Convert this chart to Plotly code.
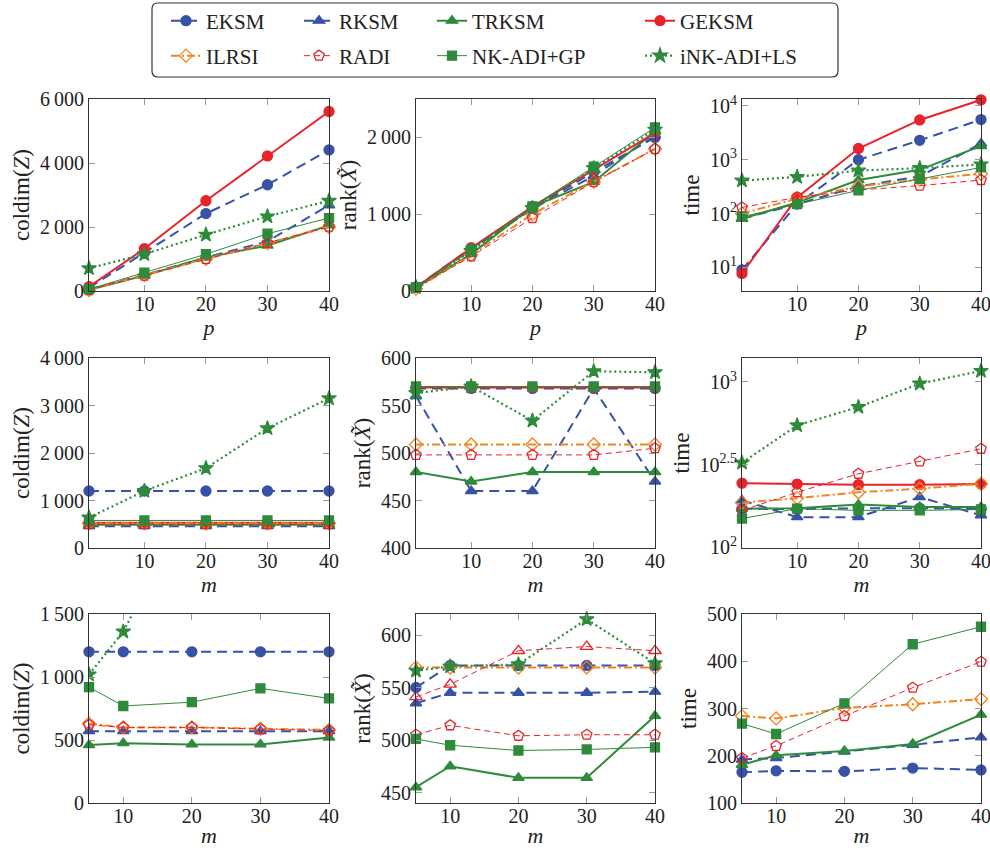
import plotly.graph_objects as go

# ---------------- data ----------------
methods = ["EKSM", "RKSM", "TRKSM", "GEKSM", "ILRSI", "RADI", "NK-ADI+GP", "iNK-ADI+LS"]

p_values = [1, 10, 20, 30, 40]
m_values_mid = [1, 10, 20, 30, 40]
m_values_low = [5, 10, 20, 30, 40]

coldim_p = {
    "EKSM": [100, 1200, 2420, 3320, 4410],
    "RKSM": [50, 500, 1050, 1550, 2680],
    "TRKSM": [40, 480, 1050, 1420, 2050],
    "GEKSM": [135, 1320, 2820, 4220, 5610],
    "ILRSI": [30, 500, 1000, 1500, 2000],
    "RADI": [30, 480, 1000, 1500, 2010],
    "NK-ADI+GP": [60, 570, 1150, 1790, 2280],
    "iNK-ADI+LS": [710, 1150, 1760, 2330, 2820],
}
rank_p = {
    "EKSM": [50, 560, 1080, 1550, 2000],
    "RKSM": [50, 540, 1070, 1500, 2030],
    "TRKSM": [50, 480, 1100, 1420, 2080],
    "GEKSM": [50, 560, 1100, 1580, 2060],
    "ILRSI": [30, 470, 1000, 1420, 1850],
    "RADI": [40, 450, 950, 1420, 1850],
    "NK-ADI+GP": [50, 540, 1100, 1620, 2130],
    "iNK-ADI+LS": [50, 520, 1080, 1600, 2100],
}
time_p = {
    "EKSM": [9, 150, 1000, 2300, 5600],
    "RKSM": [80, 150, 320, 490, 2000],
    "TRKSM": [80, 160, 420, 650, 1800],
    "GEKSM": [7.7, 200, 1620, 5500, 13000],
    "ILRSI": [100, 190, 320, 430, 550],
    "RADI": [130, 200, 275, 330, 420],
    "NK-ADI+GP": [87, 150, 270, 440, 720],
    "iNK-ADI+LS": [410, 480, 630, 700, 820],
}

coldim_m = {
    "EKSM": [1200, 1200, 1200, 1200, 1200],
    "RKSM": [460, 460, 460, 460, 460],
    "TRKSM": [490, 490, 490, 490, 490],
    "GEKSM": [530, 530, 530, 530, 530],
    "ILRSI": [520, 520, 520, 520, 520],
    "RADI": [500, 500, 500, 500, 500],
    "NK-ADI+GP": [580, 580, 580, 580, 580],
    "iNK-ADI+LS": [640, 1200, 1680, 2520, 3150],
}
rank_m = {
    "EKSM": [568, 568, 568, 568, 568],
    "RKSM": [560, 460, 460, 568, 470],
    "TRKSM": [480, 470, 480, 480, 480],
    "GEKSM": [569, 569, 569, 569, 569],
    "ILRSI": [509, 509, 509, 509, 509],
    "RADI": [498, 498, 498, 498, 505],
    "NK-ADI+GP": [570, 570, 570, 570, 570],
    "iNK-ADI+LS": [563, 570, 534, 586, 585],
}
time_m = {
    "EKSM": [171, 170, 172, 172, 170],
    "RKSM": [192, 152, 152, 201, 156],
    "TRKSM": [171, 172, 181, 175, 175],
    "GEKSM": [244, 241, 239, 239, 241],
    "ILRSI": [186, 198, 215, 226, 242],
    "RADI": [167, 215, 278, 330, 394],
    "NK-ADI+GP": [149, 171, 167, 167, 169],
    "iNK-ADI+LS": [324, 546, 705, 977, 1166],
}

coldim_m_low = {
    "EKSM": [1200, 1200, 1200, 1200, 1200],
    "RKSM": [570, 570, 570, 570, 570],
    "TRKSM": [460, 475, 465, 465, 520],
    "ILRSI": [630, 600, 600, 590, 580],
    "RADI": [620, 600, 600, 585, 575],
    "NK-ADI+GP": [920, 770, 800, 910, 830],
    "iNK-ADI+LS": [1020, 1360, 2400, 3000, 3500],
}
rank_m_low = {
    "EKSM": [550, 571, 571, 571, 571],
    "RKSM": [535, 545, 545, 545, 546],
    "TRKSM": [455, 475, 464, 464, 523],
    "ILRSI": [569, 569, 569, 569, 569],
    "RADI": [505, 514, 504, 505, 505],
    "NK-ADI+GP": [501, 495, 490, 491, 493],
    "iNK-ADI+LS": [566, 570, 572, 615, 573],
    "RADI (variant)": [541, 553, 585, 589, 585],
}
time_m_low = {
    "EKSM": [165, 168, 167, 174, 170],
    "RKSM": [192, 195, 209, 223, 239],
    "TRKSM": [181, 201, 210, 225, 287],
    "ILRSI": [284, 279, 301, 309, 320],
    "RADI": [195, 221, 284, 344, 399],
    "NK-ADI+GP": [268, 246, 311, 436, 473],
}

# tick values / labels
x_ticks = [10, 20, 30, 40]
yt_coldim_p = [0, 2000, 4000, 6000]
yl_coldim_p = ["0", "2\u2009000", "4\u2009000", "6\u2009000"]
yt_rank_p = [0, 1000, 2000]
yl_rank_p = ["0", "1\u2009000", "2\u2009000"]
yt_time_p = [10, 100, 1000, 10000]
yl_time_p = ["10<sup>1</sup>", "10<sup>2</sup>", "10<sup>3</sup>", "10<sup>4</sup>"]
yt_coldim_m = [0, 1000, 2000, 3000, 4000]
yl_coldim_m = ["0", "1\u2009000", "2\u2009000", "3\u2009000", "4\u2009000"]
yt_rank_m = [400, 450, 500, 550, 600]
yl_rank_m = ["400", "450", "500", "550", "600"]
yt_time_m = [100, 316.227766, 1000]
yl_time_m = ["10<sup>2</sup>", "10<sup>2.5</sup>", "10<sup>3</sup>"]
yt_coldim_ml = [0, 500, 1000, 1500]
yl_coldim_ml = ["0", "500", "1\u2009000", "1\u2009500"]
yt_rank_ml = [450, 500, 550, 600]
yl_rank_ml = ["450", "500", "550", "600"]
yt_time_ml = [100, 200, 300, 400, 500]
yl_time_ml = ["100", "200", "300", "400", "500"]

# ---------------- styles ----------------
BLUE = "#3752a6"
RED = "#e8232b"
GREEN = "#2f8b3c"
ORANGE = "#f5821f"

style = {
    "EKSM": dict(color=BLUE, width=2, dash="10px,6px", symbol="circle", size=10),
    "RKSM": dict(color=BLUE, width=2, dash="10px,6px", symbol="triangle-up", size=10),
    "TRKSM": dict(color=GREEN, width=2, dash="solid", symbol="triangle-up", size=10),
    "GEKSM": dict(color=RED, width=2, dash="solid", symbol="circle", size=10),
    "ILRSI": dict(color=ORANGE, width=2, dash="8px,3px,2px,3px", symbol="diamond-open", size=10),
    "RADI": dict(color=RED, width=1, dash="6px,4px", symbol="pentagon-open", size=11),
    "NK-ADI+GP": dict(color=GREEN, width=1, dash="solid", symbol="square", size=9),
    "iNK-ADI+LS": dict(color=GREEN, width=2.2, dash="2px,3px", symbol="star", size=11),
    "RADI (variant)": dict(color=RED, width=1, dash="6px,4px", symbol="triangle-up-open", size=11),
}

FONT = "'Liberation Serif', 'DejaVu Serif', serif"
TXT = "#222222"

# panel geometry (pixels) -> paper domains
W, H = 990, 848
cols_px = [(89, 329), (416, 655), (742, 981)]
rows_px = [(99, 291), (358, 548), (614, 803)]

panels = [
    # row, col, x, data, yrange, type, tickvals, ticktext, ytitle, xtitle, xrange
    (0, 0, p_values, coldim_p, [0, 6000], "linear", yt_coldim_p, yl_coldim_p, "coldim(<i>Z</i>)", "<i>p</i>", [1, 40]),
    (0, 1, p_values, rank_p, [0, 2500], "linear", yt_rank_p, yl_rank_p, "rank(<i>X\u0303</i>)", "<i>p</i>", [1, 40]),
    (0, 2, p_values, time_p, [0.56, 4.13], "log", yt_time_p, yl_time_p, "time", "<i>p</i>", [1, 40]),
    (1, 0, m_values_mid, coldim_m, [0, 4000], "linear", yt_coldim_m, yl_coldim_m, "coldim(<i>Z</i>)", "<i>m</i>", [1, 40]),
    (1, 1, m_values_mid, rank_m, [400, 600], "linear", yt_rank_m, yl_rank_m, "rank(<i>X\u0303</i>)", "<i>m</i>", [1, 40]),
    (1, 2, m_values_mid, time_m, [1.995, 3.145], "log", yt_time_m, yl_time_m, "time", "<i>m</i>", [1, 40]),
    (2, 0, m_values_low, coldim_m_low, [0, 1500], "linear", yt_coldim_ml, yl_coldim_ml, "coldim(<i>Z</i>)", "<i>m</i>", [5, 40]),
    (2, 1, m_values_low, rank_m_low, [440, 620], "linear", yt_rank_ml, yl_rank_ml, "rank(<i>X\u0303</i>)", "<i>m</i>", [5, 40]),
    (2, 2, m_values_low, time_m_low, [100, 500], "linear", yt_time_ml, yl_time_ml, "time", "<i>m</i>", [5, 40]),
]

fig = go.Figure()
legend_done = set()

for k, (r, c, xs, data, yr, ytype, tv, tt, ytitle, xtitle, xr) in enumerate(panels):
    idx = "" if k == 0 else str(k + 1)
    x0, x1 = cols_px[c]
    y0, y1 = rows_px[r]
    axis_common = dict(
        showline=True, linecolor="#333333", linewidth=1, mirror="ticks",
        ticks="inside", ticklen=6, tickcolor="#9a9a9a", tickwidth=1,
        showgrid=False, zeroline=False, ticklabeloverflow="allow",
        tickfont=dict(family=FONT, size=20, color=TXT),
    )
    xdef = dict(
        domain=[x0 / W, x1 / W], range=xr, anchor="y" + idx,
        tickvals=x_ticks, ticktext=[str(v) for v in x_ticks],
        title=dict(text=xtitle, font=dict(family=FONT, size=22, color=TXT), standoff=0),
        **axis_common,
    )
    try:
        fig.layout["xaxis" + idx] = dict(xdef, ticklabelstandoff=-5)
    except Exception:
        fig.layout["xaxis" + idx] = xdef
    fig.layout["yaxis" + idx] = dict(
        domain=[1 - y1 / H, 1 - y0 / H], range=yr, type=ytype, anchor="x" + idx,
        tickvals=tv, ticktext=tt,
        title=dict(text=ytitle, font=dict(family=FONT, size=23, color=TXT), standoff=3),
        **axis_common,
    )
    for name, vals in data.items():
        s = style[name]
        in_legend = name in methods and name not in legend_done
        if in_legend:
            legend_done.add(name)
        li = methods.index(name) if name in methods else 0
        # markers may overflow the frame, except for the curve leaving the top of panel 7
        keep_clipped = (name == "iNK-ADI+LS" and k == 6)
        fig.add_trace(go.Scatter(
            x=xs, y=vals, name=name, mode="lines+markers",
            xaxis="x" + idx, yaxis="y" + idx,
            line=dict(color=s["color"], width=s["width"], dash=s["dash"]),
            marker=dict(symbol=s["symbol"], size=s["size"], color=s["color"],
                        line=dict(color=s["color"], width=1.3)),
            showlegend=in_legend,
            legend="legend" if li == 0 else "legend%d" % (li + 1),
            legendgroup=name,
            cliponaxis=keep_clipped,
        ))

# legends: one per entry, placed in a 4 x 2 grid
legend_text_x = [213, 346, 479, 687]
legend_row_y = [21, 56]
for i, name in enumerate(methods):
    col = i % 4
    row = i // 4
    key = "legend" if i == 0 else "legend%d" % (i + 1)
    fig.layout[key] = dict(
        x=(legend_text_x[col] - 47) / W, y=1 - legend_row_y[row] / H,
        xanchor="left", yanchor="middle",
        bgcolor="rgba(0,0,0,0)", borderwidth=0,
        font=dict(family=FONT, size=21, color=TXT),
        orientation="v", itemwidth=30,
    )

# rounded legend frame
lx0, lx1, ly0, ly1, rad = 152, 838, 3, 77, 6
def px(x):
    return x / W
def py(y):
    return 1 - y / H
path = (
    f"M {px(lx0 + rad)} {py(ly0)} L {px(lx1 - rad)} {py(ly0)} "
    f"Q {px(lx1)} {py(ly0)} {px(lx1)} {py(ly0 + rad)} L {px(lx1)} {py(ly1 - rad)} "
    f"Q {px(lx1)} {py(ly1)} {px(lx1 - rad)} {py(ly1)} L {px(lx0 + rad)} {py(ly1)} "
    f"Q {px(lx0)} {py(ly1)} {px(lx0)} {py(ly1 - rad)} L {px(lx0)} {py(ly0 + rad)} "
    f"Q {px(lx0)} {py(ly0)} {px(lx0 + rad)} {py(ly0)} Z"
)
fig.add_shape(type="path", path=path, xref="paper", yref="paper",
              line=dict(color="#333333", width=1.2), fillcolor="rgba(0,0,0,0)", layer="below")

fig.update_layout(
    width=W, height=H,
    margin=dict(l=0, r=0, t=0, b=0, autoexpand=False),
    paper_bgcolor="white", plot_bgcolor="white",
    font=dict(family=FONT, size=20, color=TXT),
)

fig.write_html(
    "out.html",
    config={"displayModeBar": False},
    post_script="document.body.style.margin='0';document.body.style.overflow='hidden';",
)
